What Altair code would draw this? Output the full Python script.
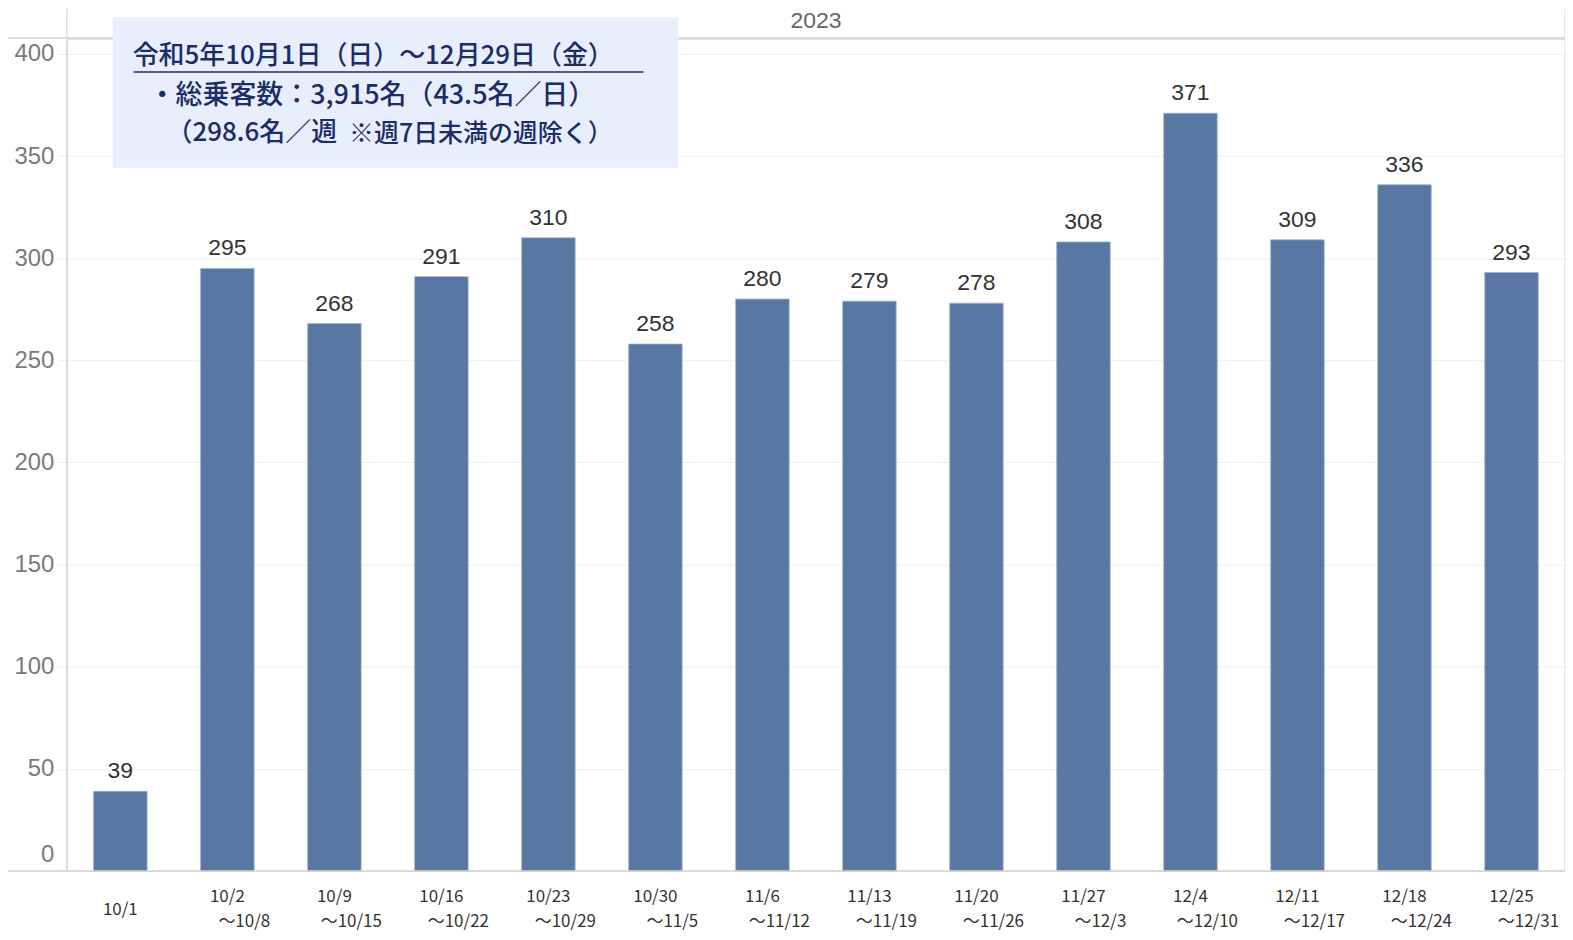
import altair as alt
import pandas as pd

# ---- data ----
week_start = ["10/1", "10/2", "10/9", "10/16", "10/23", "10/30", "11/6",
              "11/13", "11/20", "11/27", "12/4", "12/11", "12/18", "12/25"]
week_end = ["", "10/8", "10/15", "10/22", "10/29", "11/5", "11/12",
            "11/19", "11/26", "12/3", "12/10", "12/17", "12/24", "12/31"]
riders = [39, 295, 268, 291, 310, 258, 280, 279, 278, 308, 371, 309, 336, 293]
y_ticks = [0, 50, 100, 150, 200, 250, 300, 350, 400]
header_text = "2023"
note_line1 = "令和5年10月1日（日）〜12月29日（金）"
note_line2 = "・総乗客数：3,915名（43.5名／日）"
note_line3a = "（298.6名／週"
note_line3b = "※週7日未満の週除く）"

df = pd.DataFrame({"week": week_start, "end": week_end, "riders": riders})
df["end_label"] = df["end"].map(lambda e: "〜" + e if e else "")
single = [s for s, e in zip(week_start, week_end) if not e]

W, H = 1502, 834
PL, PT = 59, 30
NAVY = "#1b2d66"
LINE = "#d0d0d0"
XFONT = "Noto Sans CJK JP"

single_test = " || ".join("datum.value == '%s'" % s for s in single)

x_enc = alt.X(
    "week:N", sort=week_start, title=None,
    scale=alt.Scale(paddingInner=0.5, paddingOuter=0.25),
    axis=alt.Axis(labelAngle=0, ticks=False, tickSize=0,
                  domain=False, labelPadding=26,
                  labelBaseline={"condition": {"test": single_test, "value": "line-top"},
                                 "value": "middle"},
                  labelLineHeight=26, labelFont=XFONT,
                  labelFontSize=17, labelColor="#333333", labelAlign="center"),
)
y_enc = alt.Y(
    "riders:Q", title=None,
    scale=alt.Scale(domain=[0, 407.3], nice=False, zero=True),
    axis=alt.Axis(values=y_ticks, grid=True, gridColor="#eeeeee", domain=False,
                  ticks=True, tickSize=9, tickColor="#eeeeee", labelPadding=4,
                  labelFont="Liberation Sans", labelFontSize=24,
                  labelColor="#7a7a7a", labelFlush=True, labelFlushOffset=-4),
)

base = alt.Chart(df)
bars = base.mark_bar(color="#5877a2", stroke="#9fb1cb", strokeWidth=0.8).encode(
    x=x_enc, y=y_enc)
values = base.mark_text(baseline="bottom", dy=-8, font="Liberation Sans",
                        fontSize=23, color="#333333").encode(
    x=alt.X("week:N", sort=week_start), y="riders:Q", text="riders:Q")
# second line of the x-axis labels ("〜end date"), set a little to the right
end_labels = base.mark_text(baseline="middle", dx=17, font=XFONT, fontSize=17,
                            color="#333333").encode(
    x=alt.X("week:N", sort=week_start), y=alt.value(H + 51), text="end_label:N")

one = alt.Chart(pd.DataFrame({"k": [0]}))

def hrule(x1, x2, y, color=LINE, w=1.0):
    return one.mark_rule(color=color, strokeWidth=w).encode(
        x=alt.value(x1), x2=alt.value(x2), y=alt.value(y))

def vrule(x, y1, y2, color=LINE, w=1.0):
    return one.mark_rule(color=color, strokeWidth=w).encode(
        x=alt.value(x), y=alt.value(y1), y2=alt.value(y2))

frame = (hrule(-PL, W, -1, w=1.5) + vrule(0, -PT, H) + vrule(W, -PT, H)
         + hrule(-PL, W, H, w=1.5))

header = one.mark_text(font="Liberation Sans", fontSize=23, color="#666666",
                       baseline="middle").encode(
    x=alt.value(W / 2), y=alt.value(-18), text=alt.value(header_text))

box = one.mark_rect(color="#e8eefc").encode(
    x=alt.value(46), x2=alt.value(613), y=alt.value(-22), y2=alt.value(129))

def note(txt, x, y, size):
    return one.mark_text(font="Noto Sans CJK JP", fontSize=size, color=NAVY,
                         fontWeight=500, align="left", baseline="middle").encode(
        x=alt.value(x), y=alt.value(y), text=alt.value(txt))

notes = (note(note_line1, 66, 17, 26) + hrule(67, 578, 33, color=NAVY, w=1.5)
         + note(note_line2, 82, 57, 27) + note(note_line3a, 100, 94, 26)
         + note(note_line3b, 283, 95, 25))

chart = alt.layer(bars, values, end_labels, frame, header, box, notes).properties(
    width=W, height=H,
    autosize=alt.AutoSizeParams(type="none"),
    padding={"left": PL, "top": PT, "right": 0, "bottom": 60},
).configure_view(stroke=None).configure(background="white")

chart.save("out.html", embed_options={"renderer": "svg", "actions": False})
